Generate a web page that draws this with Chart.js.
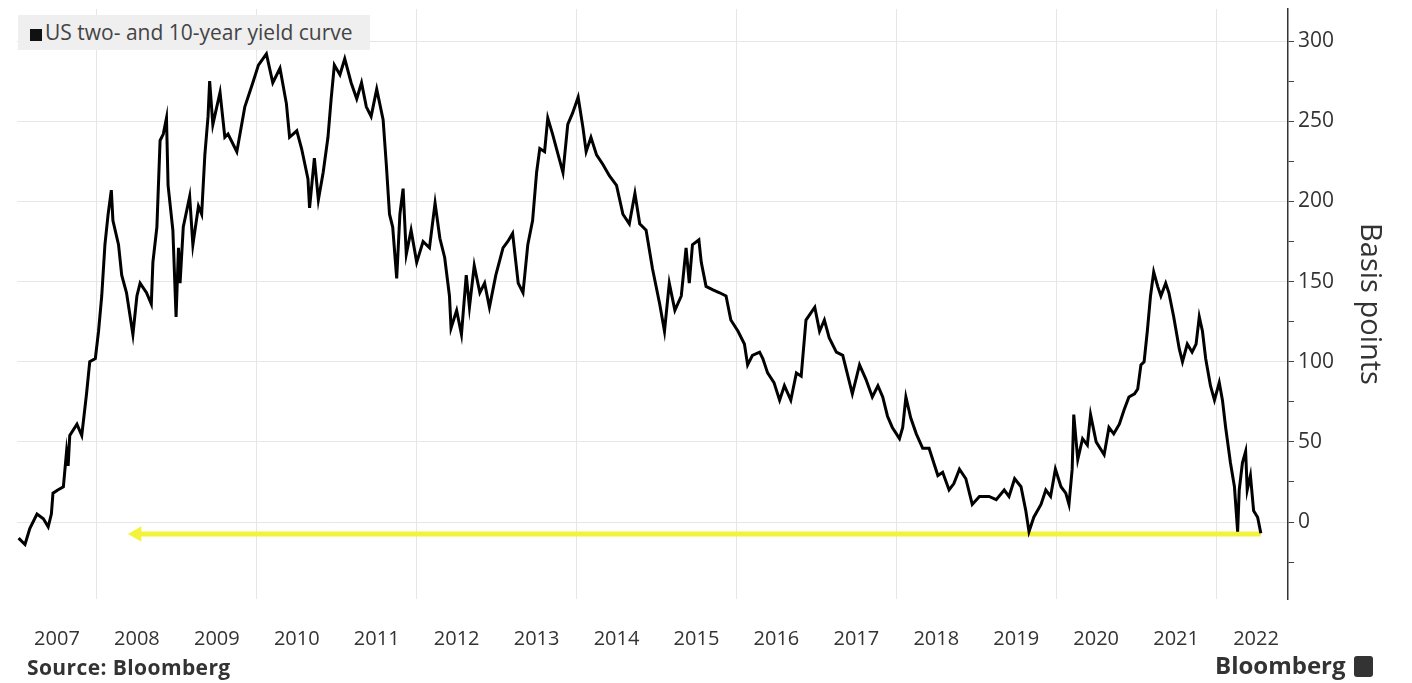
<!DOCTYPE html>
<html>
<head>
<meta charset="utf-8">
<script src="https://cdn.jsdelivr.net/npm/chart.js@4.4.1/dist/chart.umd.min.js"></script>
<style>
  body { margin: 0; background: #fff; font-family: 'Open Sans', sans-serif; }
  #wrap { position: relative; width: 1412px; height: 683px; }
  #legend { position: absolute; left: 18px; top: 15px; width: 352px; height: 35px; background: #efefef;
            color: #444; font-size: 21px; line-height: 35px; white-space: nowrap; }
  #legend .sq { display: inline-block; width: 12px; height: 12px; background: #111; margin: 0 3px 0 12px; vertical-align: -1px; }
  #source { position: absolute; left: 27px; top: 653px; font-size: 21px; font-weight: bold; color: #333; letter-spacing: 0.4px; }
  #brand { position: absolute; left: 1215px; top: 648px; font-size: 24px; font-weight: bold; color: #333; white-space: nowrap; }
  #brand .logo { display: inline-block; width: 19px; height: 21px; background: #333; border-radius: 3px; margin-left: 8px; vertical-align: -3px; }
</style>
</head>
<body>
<div id="wrap">
  <canvas id="curveChart"></canvas>
  <div id="legend"><span class="sq"></span>US two- and 10-year yield curve</div>
  <div id="source">Source: Bloomberg</div>
  <div id="brand">Bloomberg<span class="logo"></span></div>
</div>
<script>
// spread between US 10y and 2y yields, basis points
const dates = [
  2007.02, 2007.10, 2007.16, 2007.25, 2007.33, 2007.39, 2007.43, 2007.45, 2007.51, 2007.58, 2007.62, 2007.64, 2007.66, 2007.75, 2007.81, 2007.87, 2007.91, 2007.98,
  2008.02, 2008.06, 2008.10, 2008.14, 2008.18, 2008.20, 2008.27, 2008.31, 2008.37, 2008.45, 2008.50, 2008.54, 2008.62, 2008.68, 2008.70, 2008.75, 2008.79, 2008.83, 2008.87, 2008.89, 2008.95, 2008.99,
  2009.02, 2009.04, 2009.08, 2009.16, 2009.20, 2009.27, 2009.31, 2009.35, 2009.39, 2009.41, 2009.45, 2009.54, 2009.60, 2009.64, 2009.75, 2009.85, 2009.95,
  2010.02, 2010.12, 2010.20, 2010.29, 2010.37, 2010.41, 2010.50, 2010.56, 2010.64, 2010.66, 2010.72, 2010.77, 2010.83, 2010.89, 2010.93, 2010.97,
  2011.04, 2011.10, 2011.18, 2011.25, 2011.31, 2011.37, 2011.43, 2011.50, 2011.58, 2011.62, 2011.66, 2011.70, 2011.75, 2011.79, 2011.83, 2011.87, 2011.93,
  2012.00, 2012.08, 2012.16, 2012.23, 2012.29, 2012.35, 2012.41, 2012.43, 2012.50, 2012.56, 2012.62, 2012.66, 2012.72, 2012.79, 2012.85, 2012.91, 2012.99,
  2013.08, 2013.14, 2013.20, 2013.27, 2013.33, 2013.39, 2013.45, 2013.50, 2013.54, 2013.60, 2013.64, 2013.70, 2013.77, 2013.83, 2013.89, 2013.95,
  2014.02, 2014.08, 2014.12, 2014.18, 2014.25, 2014.33, 2014.41, 2014.50, 2014.58, 2014.66, 2014.73, 2014.79, 2014.87, 2014.95,
  2015.04, 2015.10, 2015.16, 2015.23, 2015.31, 2015.37, 2015.41, 2015.45, 2015.53, 2015.56, 2015.62, 2015.70, 2015.79, 2015.87, 2015.93,
  2016.02, 2016.10, 2016.14, 2016.20, 2016.29, 2016.33, 2016.39, 2016.47, 2016.54, 2016.60, 2016.68, 2016.75, 2016.81, 2016.87, 2016.98,
  2017.04, 2017.10, 2017.16, 2017.25, 2017.33, 2017.45, 2017.54, 2017.62, 2017.70, 2017.77, 2017.83, 2017.89, 2017.95,
  2018.04, 2018.08, 2018.12, 2018.18, 2018.25, 2018.33, 2018.41, 2018.52, 2018.58, 2018.66, 2018.72, 2018.79, 2018.87, 2018.95,
  2019.04, 2019.16, 2019.25, 2019.35, 2019.41, 2019.48, 2019.56, 2019.62, 2019.66, 2019.72, 2019.81, 2019.87, 2019.93, 2019.99,
  2020.06, 2020.12, 2020.16, 2020.20, 2020.22, 2020.27, 2020.33, 2020.39, 2020.43, 2020.50, 2020.60, 2020.66, 2020.72, 2020.79, 2020.85, 2020.91, 2020.98,
  2021.02, 2021.06, 2021.10, 2021.14, 2021.18, 2021.22, 2021.27, 2021.31, 2021.37, 2021.41, 2021.47, 2021.54, 2021.58, 2021.64, 2021.70, 2021.75, 2021.79, 2021.83, 2021.87, 2021.93, 2021.98,
  2022.04, 2022.08, 2022.12, 2022.18, 2022.23, 2022.27, 2022.29, 2022.33, 2022.37, 2022.39, 2022.43, 2022.47, 2022.52, 2022.56
];
const spread = [
  -10, -14, -4, 5, 2, -3, 5, 18, 20, 22, 44, 35, 54, 61, 54, 80, 100, 102,
  119, 141, 173, 192, 207, 188, 173, 154, 143, 117, 141, 149, 143, 136, 162, 184, 238, 242, 252, 210, 182, 128,
  171, 149, 184, 203, 173, 197, 192, 229, 253, 275, 248, 268, 240, 242, 231, 259, 274,
  285, 292, 274, 283, 261, 240, 244, 233, 214, 196, 227, 201, 218, 240, 264, 285,
  279, 289, 274, 264, 274, 259, 253, 270, 251, 223, 192, 184, 152, 192, 208, 167, 182,
  162, 175, 171, 199, 177, 165, 141, 121, 132, 117, 154, 134, 160, 143, 149, 134, 154,
  171, 175, 180, 149, 143, 173, 188, 218, 233, 231, 252, 242, 229, 218, 248, 255,
  265, 246, 231, 240, 229, 223, 216, 210, 192, 186, 205, 186, 182, 158,
  136, 119, 149, 132, 141, 171, 149, 173, 176, 162, 147, 145, 143, 141, 126,
  119, 111, 98, 104, 106, 102, 93, 87, 76, 85, 76, 93, 91, 126, 134,
  119, 126, 115, 106, 104, 80, 98, 89, 78, 85, 78, 66, 59,
  52, 59, 78, 65, 55, 46, 46, 29, 31, 20, 24, 33, 27, 11,
  16, 16, 14, 20, 16, 27, 22, 7, -6, 3, 11, 20, 16, 33,
  22, 18, 11, 33, 67, 39, 52, 48, 67, 50, 42, 59, 55, 61, 70, 78, 80,
  83, 98, 100, 119, 141, 156, 147, 141, 149, 143, 128, 108, 100, 111, 106, 111, 128, 119, 102, 85, 76,
  87, 76, 59, 37, 22, -6, 20, 37, 44, 20, 29, 7, 3, -7
];

// yellow arrow marking the inversion level
const arrowDates = [2008.5, 2022.56];
const arrowLevel = [-7.5, -7.5];

const yearLabels = [2007, 2008, 2009, 2010, 2011, 2012, 2013, 2014, 2015, 2016, 2017, 2018, 2019, 2020, 2021, 2022];
const gridYears = [2008, 2010, 2012, 2014, 2016, 2018, 2020, 2022];
const yTicks = [-25, 0, 25, 50, 75, 100, 125, 150, 175, 200, 225, 250, 275, 300];

Chart.defaults.font.family = "'Open Sans', sans-serif";

new Chart(document.getElementById('curveChart'), {
  type: 'line',
  data: {
    datasets: [
      {
        label: 'US two- and 10-year yield curve',
        data: dates.map((d, i) => ({ x: d, y: spread[i] })),
        borderColor: '#000',
        borderWidth: 3,
        pointRadius: 0,
        tension: 0,
        order: 0
      },
      {
        label: 'inversion',
        data: arrowDates.map((d, i) => ({ x: d, y: arrowLevel[i] })),
        borderColor: '#f3f33c',
        backgroundColor: '#f3f33c',
        borderWidth: 5,
        pointStyle: 'triangle',
        pointRotation: -90,
        pointRadius: [9, 0],
        pointBorderWidth: 0,
        order: 1
      }
    ]
  },
  options: {
    responsive: true,
    maintainAspectRatio: false,
    animation: false,
    layout: { padding: { left: 17, top: 8, right: 0, bottom: 4 } },
    plugins: { legend: { display: false }, tooltip: { enabled: false } },
    scales: {
      x: {
        type: 'linear', min: 2007, max: 2022.9,
        afterBuildTicks: s => { s.ticks = gridYears.map(v => ({ value: v })); },
        ticks: { display: false },
        grid: { color: '#e6e6e6', drawTicks: false },
        border: { display: false }
      },
      xYears: {
        type: 'linear', position: 'bottom', min: 2007, max: 2022.9,
        afterBuildTicks: s => { s.ticks = yearLabels.map(y => ({ value: y + 0.5 })); },
        ticks: { autoSkip: false, maxRotation: 0, padding: 28, color: '#333', font: { size: 20 },
                 callback: v => String(Math.floor(v)) },
        grid: { display: false, drawTicks: false },
        border: { display: false }
      },
      y: {
        position: 'right', min: -48, max: 320,
        afterBuildTicks: s => { s.ticks = yTicks.map(v => ({ value: v })); },
        afterFit: s => { s.width = 124; s.paddingTop = 0; s.paddingBottom = 0; },
        ticks: { padding: 4, color: '#333', font: { size: 21 },
                 callback: v => (v % 50 === 0 ? v : '') },
        grid: {
          color: c => (c.tick && c.tick.value % 50 === 0 ? '#e6e6e6' : 'rgba(0,0,0,0)'),
          tickColor: '#444', tickLength: 6
        },
        border: { display: true, color: '#333', width: 1.5 },
        title: { display: true, text: 'Basis points', color: '#333', font: { size: 29 }, padding: { top: 25 } }
      }
    }
  }
});
</script>
</body>
</html>
